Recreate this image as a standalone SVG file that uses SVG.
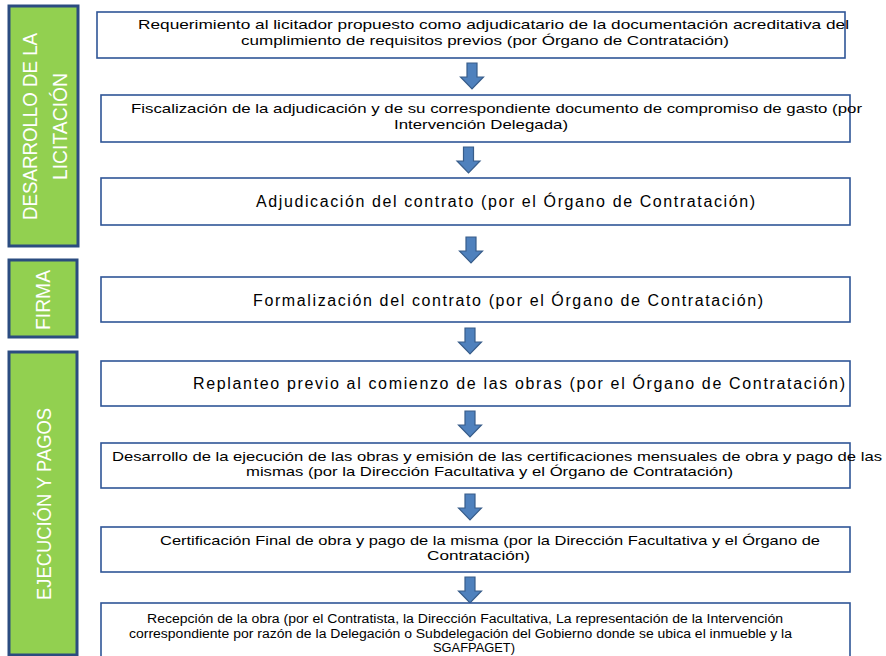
<svg xmlns="http://www.w3.org/2000/svg" xmlns:xlink="http://www.w3.org/1999/xlink" width="886" height="656" viewBox="0 0 886 656">
<style>
.phase{fill:#92D050;stroke:#2B4C80;stroke-width:3}
.ptxt{fill:#ffffff;font-family:"Liberation Sans",Arial,sans-serif;font-size:21px;text-anchor:middle}
.box{fill:#ffffff;stroke:#2F5597;stroke-width:1.6}
.t{fill:#000000;font-family:"Liberation Sans",Arial,sans-serif;font-size:13.5px}
.tl{fill:#000000;font-family:"Liberation Sans",Arial,sans-serif;font-size:16px}
.ts{fill:#000000;font-family:"Liberation Sans",Arial,sans-serif;font-size:12.5px}
.arrow{fill:#4F81BD;stroke:#385D8A;stroke-width:1.2}
</style>
<defs>
<path id="arr" d="M-5,0 H5 V14 H11.5 L0,26 L-11.5,14 H-5 Z"/>
</defs>
<rect width="886" height="656" fill="#ffffff"/>

<g id="phase-licitacion">
<rect class="phase" x="9" y="6" width="69" height="240"/>
<text class="ptxt" transform="translate(37,126.5) rotate(-90)" textLength="187" lengthAdjust="spacingAndGlyphs">DESARROLLO DE LA</text>
<text class="ptxt" transform="translate(67,126.5) rotate(-90)" textLength="107" lengthAdjust="spacingAndGlyphs">LICITACIÓN</text>
</g>
<g id="phase-firma">
<rect class="phase" x="9" y="260" width="68" height="77"/>
<text class="ptxt" transform="translate(50,300) rotate(-90)" textLength="60" lengthAdjust="spacingAndGlyphs">FIRMA</text>
</g>
<g id="phase-ejecucion">
<rect class="phase" x="9" y="352" width="68" height="303"/>
<text class="ptxt" transform="translate(51,504) rotate(-90)" textLength="192" lengthAdjust="spacingAndGlyphs">EJECUCIÓN Y PAGOS</text>
</g>

<g id="connectors">
<use xlink:href="#arr" class="arrow" transform="translate(472,63)"/>
<use xlink:href="#arr" class="arrow" transform="translate(468.5,147)"/>
<use xlink:href="#arr" class="arrow" transform="translate(471,237)"/>
<use xlink:href="#arr" class="arrow" transform="translate(470,328)"/>
<use xlink:href="#arr" class="arrow" transform="translate(470,411)"/>
<use xlink:href="#arr" class="arrow" transform="translate(470,494)"/>
<use xlink:href="#arr" class="arrow" transform="translate(470,577)"/>
</g>

<g id="step-requerimiento">
<rect class="box" x="97" y="12" width="748" height="46"/>
<text class="t" x="138" y="29" textLength="711" lengthAdjust="spacingAndGlyphs">Requerimiento al licitador propuesto como adjudicatario de la documentación acreditativa del</text>
<text class="t" x="241" y="44.5" textLength="488" lengthAdjust="spacingAndGlyphs">cumplimiento de requisitos previos (por Órgano de Contratación)</text>
</g>
<g id="step-fiscalizacion">
<rect class="box" x="101" y="95" width="749" height="47"/>
<text class="t" x="131" y="113" textLength="731" lengthAdjust="spacingAndGlyphs">Fiscalización de la adjudicación y de su correspondiente documento de compromiso de gasto (por</text>
<text class="t" x="394" y="128.5" textLength="174" lengthAdjust="spacingAndGlyphs">Intervención Delegada)</text>
</g>
<g id="step-adjudicacion">
<rect class="box" x="101" y="178" width="749" height="47"/>
<text class="tl" x="256" y="207" textLength="499" lengthAdjust="spacing">Adjudicación del contrato (por el Órgano de Contratación)</text>
</g>
<g id="step-formalizacion">
<rect class="box" x="101" y="277" width="749" height="45"/>
<text class="tl" x="253" y="305.5" textLength="510" lengthAdjust="spacing">Formalización del contrato (por el Órgano de Contratación)</text>
</g>
<g id="step-replanteo">
<rect class="box" x="101" y="361" width="749" height="45"/>
<text class="tl" x="193" y="388.5" textLength="652" lengthAdjust="spacing">Replanteo previo al comienzo de las obras (por el Órgano de Contratación)</text>
</g>
<g id="step-desarrollo">
<rect class="box" x="101" y="443" width="749" height="45"/>
<text class="t" x="112" y="460.5" textLength="770" lengthAdjust="spacingAndGlyphs">Desarrollo de la ejecución de las obras y emisión de las certificaciones mensuales de obra y pago de las</text>
<text class="t" x="246" y="475.5" textLength="487" lengthAdjust="spacingAndGlyphs">mismas (por la Dirección Facultativa y el Órgano de Contratación)</text>
</g>
<g id="step-certificacion">
<rect class="box" x="101" y="527" width="749" height="45"/>
<text class="t" x="160" y="545" textLength="660" lengthAdjust="spacingAndGlyphs">Certificación Final de obra y pago de la misma (por la Dirección Facultativa y el Órgano de</text>
<text class="t" x="427" y="560" textLength="103" lengthAdjust="spacingAndGlyphs">Contratación)</text>
</g>
<g id="step-recepcion">
<rect class="box" x="101" y="603" width="749" height="60"/>
<text class="ts" x="147" y="622.5" textLength="636" lengthAdjust="spacingAndGlyphs">Recepción de la obra (por el Contratista, la Dirección Facultativa, La representación de la Intervención</text>
<text class="ts" x="129" y="637.5" textLength="663" lengthAdjust="spacingAndGlyphs">correspondiente por razón de la Delegación o Subdelegación del Gobierno donde se ubica el inmueble y la</text>
<text class="ts" x="433" y="652" textLength="82" lengthAdjust="spacingAndGlyphs">SGAFPAGET)</text>
</g>
</svg>
